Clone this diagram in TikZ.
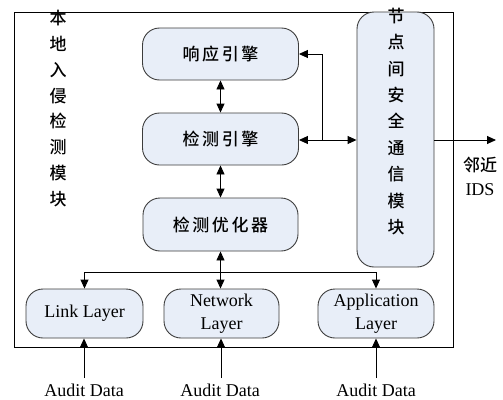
\documentclass[tikz,border=0pt]{standalone}
\usepackage{fontspec}
\setmainfont{Liberation Serif}
\newfontfamily\cjk[LetterSpace=15,UprightFont={* Medium}]{Noto Sans CJK SC}
\newfontfamily\cjkv[UprightFont={* Medium}]{Noto Sans CJK SC}
\usetikzlibrary{arrows.meta}
\definecolor{boxfill}{RGB}{232,238,248}
\definecolor{boxline}{RGB}{60,60,60}
\begin{document}
\begin{tikzpicture}[x=1pt,y=-1pt,
  modbox/.style={draw=boxline, fill=boxfill, rounded corners=17pt, line width=0.9pt, inner sep=0pt, align=center},
  cnbox/.style={modbox, font=\cjk\fontsize{17}{20}\selectfont},
  enbox/.style={modbox, font=\fontsize{18}{23}\selectfont},
  conn/.style={line width=0.9pt, draw=black},
  tip/.style={-{Triangle[length=9pt,width=8pt]}},
  bitip/.style={{Triangle[length=9pt,width=8pt]}-{Triangle[length=9pt,width=8pt]}},
  lbl/.style={inner sep=0pt, font=\fontsize{18}{23}\selectfont}
]
\useasboundingbox (0,0) rectangle (503,399);
% outer frame
\draw[line width=0.9pt] (14,12) rectangle (453,347);
% engine boxes
\node[cnbox, minimum width=156pt, minimum height=52pt] (resp) at (220.5,54) {响应引擎};
\node[cnbox, minimum width=156pt, minimum height=52pt] (det) at (220.5,139) {检测引擎};
\node[cnbox, minimum width=155pt, minimum height=53pt] (opt) at (220.5,224.5) {检测优化器};
% communication module
\node[modbox, minimum width=77pt, minimum height=255pt] (comm) at (395.5,139.5) {};
\node[inner sep=0pt, align=center, font=\cjkv\fontsize{17}{26.4}\selectfont] (commtxt) at (396,121.5) {节\\点\\间\\安\\全\\通\\信\\模\\块};
% local module label
\node[inner sep=0pt, align=center, font=\cjkv\fontsize{17}{25.8}\selectfont] (localtxt) at (58,108.5) {本\\地\\入\\侵\\检\\测\\模\\块};
% layer boxes
\node[enbox, minimum width=117pt, minimum height=49pt] (link) at (84.5,313.5) {Link Layer};
\node[enbox, minimum width=115pt, minimum height=49pt] (net) at (221.5,313.5) {Network\\Layer};
\node[enbox, minimum width=116pt, minimum height=49pt] (app) at (376,313.5) {Application\\Layer};
% audit data labels
\node[lbl, anchor=base] (ad1) at (84,396) {Audit Data};
\node[lbl, anchor=base] (ad2) at (220,396) {Audit Data};
\node[lbl, anchor=base] (ad3) at (376,396) {Audit Data};
\coordinate (s1) at (84,378);
\coordinate (s2) at (221,378);
\coordinate (s3) at (376,378);
% neighbour IDS
\coordinate (ids) at (496,140);
\node[inner sep=0pt, font=\cjkv\fontsize{17}{20}\selectfont] (nb) at (480,165) {邻近};
\node[lbl] (idstxt) at (480,190) {IDS};
% connectors
\draw[conn, bitip] (resp.south) -- (det.north);
\draw[conn, bitip] (det.south) -- (opt.north);
\draw[conn, bitip] (opt.south) -- (opt.south |- net.north);
\coordinate (bus) at (220.5,272);
\draw[conn, tip] (bus) -| (link.north);
\draw[conn, tip] (bus) -| (app.north);
\coordinate (j) at (322,140);
\draw[conn, tip] (j) |- (resp.east);
\draw[conn, tip] (j) -- (det.east |- j);
\draw[conn, tip] (j) -- (comm.west |- j);
\draw[conn, tip] (comm.east |- j) -- (ids);
\draw[conn, tip] (s1) -- (s1 |- link.south);
\draw[conn, tip] (s2) -- (s2 |- net.south);
\draw[conn, tip] (s3) -- (s3 |- app.south);
\end{tikzpicture}
\end{document}
